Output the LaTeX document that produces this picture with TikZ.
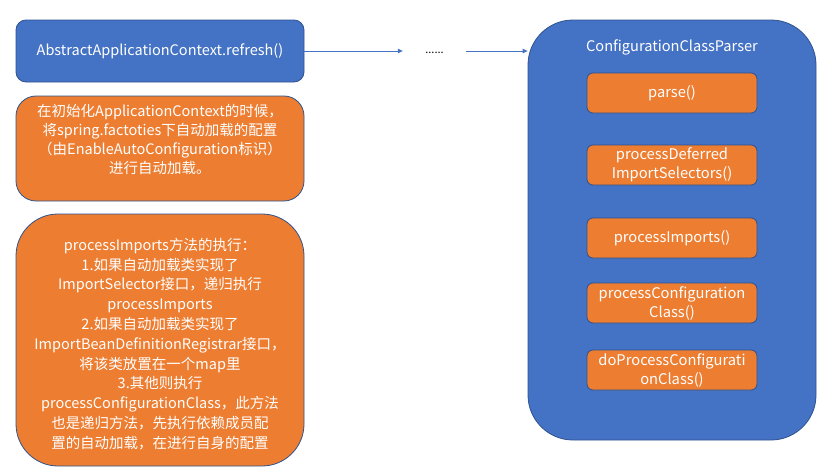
\documentclass[tikz,border=0pt]{standalone}
\usepackage{fontspec}
\setmainfont{Noto Sans CJK SC}
\usetikzlibrary{arrows.meta}
\definecolor{cblue}{HTML}{4472C4}
\definecolor{corange}{HTML}{ED7D31}
\definecolor{cedge}{HTML}{2F528F}
\tikzset{
  base/.style={draw=cedge, line width=0.8pt, text=white, align=center, inner sep=0pt,
    font=\fontsize{14.5}{19.5}\selectfont},
  bluebox/.style={base, fill=cblue},
  orangebox/.style={base, fill=corange},
  boxtext/.style={text=white, align=center, inner sep=0pt},
  method/.style={orangebox, minimum width=170pt, minimum height=40pt, rounded corners=6pt,
    font=\fontsize{14.7}{19}\selectfont},
  conn/.style={draw=cblue, line width=0.8pt, -{Triangle[length=5pt,width=4.5pt]}},
}
\begin{document}
\begin{tikzpicture}[x=1pt,y=-1pt]
\useasboundingbox (0,0) rectangle (839,471);
\node[bluebox, minimum width=288pt, minimum height=62pt, rounded corners=10pt] (refresh) at (160,51)
  {AbstractApplicationContext.refresh()};
\node[orangebox, minimum width=288pt, minimum height=105pt, rounded corners=20pt] (init) at (160,148.5) {};
\node[boxtext, font=\fontsize{14.5}{19}\selectfont] (inittext) at (160,139)
  {在初始化ApplicationContext的时候，\\将spring.factoties下自动加载的配置\\（由EnableAutoConfiguration标识）\\进行自动加载。};
\node[orangebox, minimum width=288pt, minimum height=252pt, rounded corners=42pt] (imports) at (160,340) {};
\node[boxtext, font=\fontsize{14.5}{19.8}\selectfont] (importstext) at (160,344)
  {processImports方法的执行：\\1.如果自动加载类实现了\\ImportSelector接口，递归执行\\processImports\\2.如果自动加载类实现了\\ImportBeanDefinitionRegistrar接口，\\将该类放置在一个map里\\3.其他则执行\\processConfigurationClass，此方法\\也是递归方法，先执行依赖成员配\\置的自动加载，在进行自身的配置};
\node[inner sep=0pt, minimum width=63pt, minimum height=20pt, font=\fontsize{11}{12}\selectfont] (dots) at (434.5,51)
  {\raisebox{-5pt}{......}};
\node[bluebox, minimum width=288pt, minimum height=420pt, rounded corners=45pt] (parser) at (672,230) {};
\node[text=white, inner sep=0pt, font=\fontsize{14.6}{16}\selectfont] (title) at (672,47) {ConfigurationClassParser};
\node[method] (parse) at (672,93) {parse()};
\node[method] (deferred) at (672,165) {processDeferred\\ImportSelectors()};
\node[method] (pimports) at (672,238) {processImports()};
\node[method] (pconf) at (672,303) {processConfiguration\\Class()};
\node[method] (doproc) at (672,370) {doProcessConfigurati\\onClass()};
\draw[conn] (refresh.east) -- (dots.west);
\draw[conn] (dots.east) -- (parser.west |- dots.east);
\end{tikzpicture}
\end{document}
